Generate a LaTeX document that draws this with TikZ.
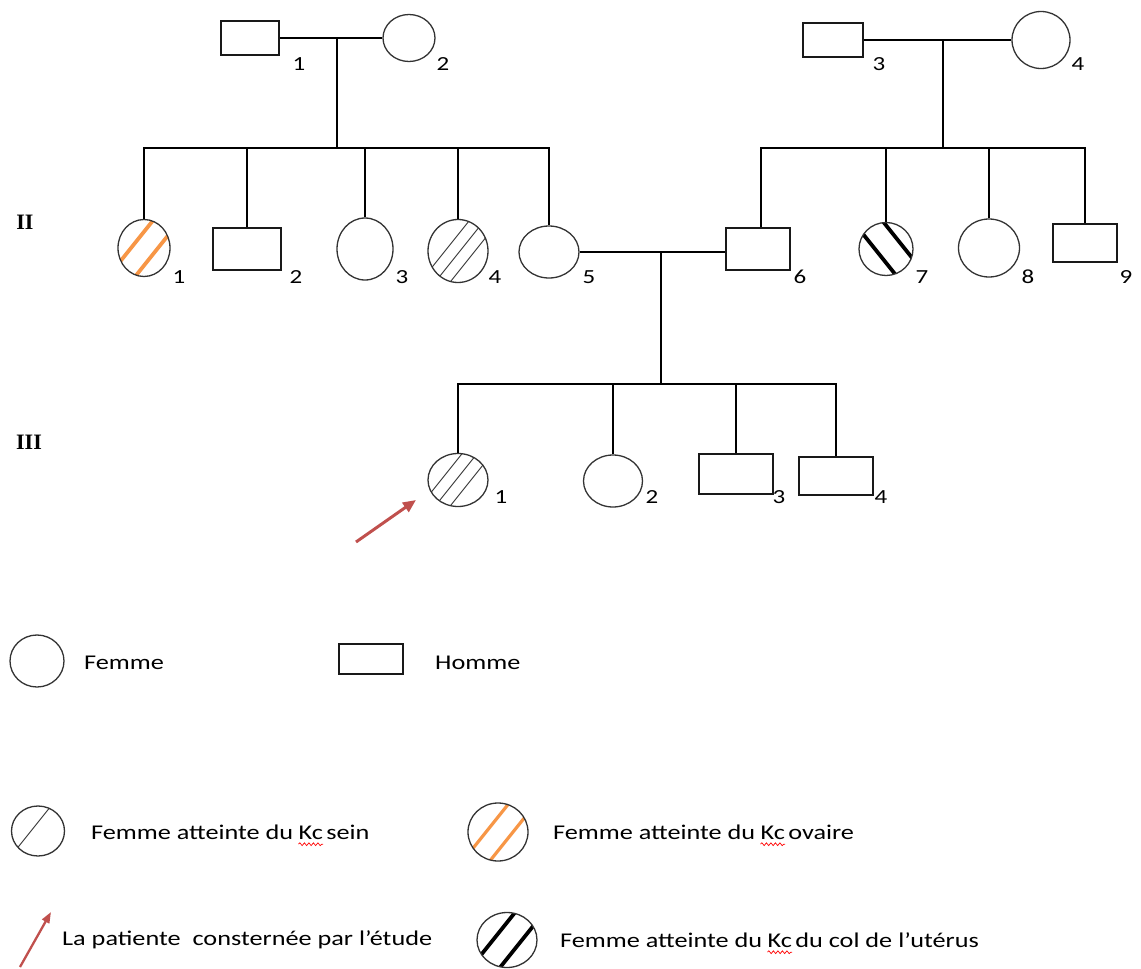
\documentclass[tikz,border=0pt]{standalone}
\usepackage{fontspec}
\setmainfont{Carlito}[FakeStretch=1.25]
\newfontfamily\romfont{Liberation Serif}
\usepackage{xcolor}
\usetikzlibrary{shapes.geometric,arrows.meta,calc,positioning,decorations.pathmorphing}
\definecolor{ovaire}{HTML}{F79646}
\definecolor{fleche}{HTML}{C0504D}

\begin{document}
\begin{tikzpicture}[x=1pt,y=-1pt,
    fem/.style 2 args={ellipse, draw=black!80, line width=1.3pt, inner sep=0pt,
        minimum width=#1, minimum height=#2},
    masc/.style 2 args={rectangle, draw=black!90, line width=1.8pt, inner sep=0pt,
        minimum width=#1, minimum height=#2},
    stripefwd/.style 2 args={path picture={\foreach \d in {#1}
        \draw[#2] ($(path picture bounding box.center)+(\d pt,0)+(-32pt,-40pt)$)
               -- ($(path picture bounding box.center)+(\d pt,0)+(32pt,40pt)$);}},
    stripeback/.style 2 args={path picture={\foreach \d in {#1}
        \draw[#2] ($(path picture bounding box.center)+(\d pt,0)+(-32pt,40pt)$)
               -- ($(path picture bounding box.center)+(\d pt,0)+(32pt,-40pt)$);}},
    lien/.style={line width=1.7pt},
    num/.style={font=\fontsize{20}{24}\selectfont, inner sep=0pt},
    gen/.style={font=\romfont\bfseries\fontsize{22}{26}\selectfont, inner sep=0pt},
    legende/.style={font=\fontsize{21}{25}\selectfont, inner sep=0pt, anchor=west},
    mot/.style={font=\fontsize{21}{25}\selectfont, inner sep=0pt, anchor=base west},
    vague/.style={draw=red, line width=0.7pt, decorate,
        decoration={snake, amplitude=1.4pt, segment length=4.5pt}},
    patiente/.style={draw=fleche, line width=3pt, -{Triangle[length=13pt,width=11pt]}}]

    \useasboundingbox (0,0) rectangle (1141,969);

    %% ── Génération I ─────────────────────────────────────────────────
    \node[masc={58}{34}] (I1) at (250,38) {};
    \node[fem={52}{47}]  (I2) at (409,38) {};
    \node[masc={60}{34}] (I3) at (833,40) {};
    \node[fem={58}{57}]  (I4) at (1041,40) {};
    \node[num] (nI1) at (299,64) {1};
    \node[num] (nI2) at (443,64) {2};
    \node[num] (nI3) at (879,64) {3};
    \node[num] (nI4) at (1078,64) {4};

    \draw[lien] (I1.east) -- (I1.east -| I2.west);
    \draw[lien] (I3.east) -- (I3.east -| I4.west);
    \coordinate (c12) at (337,38);
    \coordinate (c34) at (943,40);

    %% ── Génération II ────────────────────────────────────────────────
    \node[gen] (gII) at (25,222) {II};
    \node[fem={52}{57}, stripefwd={-13,14}{ovaire, line width=3.8pt}] (II1) at (144,248) {};
    \node[masc={68}{42}] (II2) at (247,249) {};
    \node[fem={56}{62}]  (II3) at (365,249) {};
    \node[fem={60}{63}, stripefwd={-13,2,17}{black!75, line width=1pt}] (II4) at (458,251) {};
    \node[fem={60}{52}]  (II5) at (549,252) {};
    \node[masc={64}{42}] (II6) at (758,249) {};
    \node[fem={54}{53}, stripeback={-11,19}{black, line width=3.8pt}] (II7) at (886,249) {};
    \node[fem={61}{58}]  (II8) at (989,248) {};
    \node[masc={64}{38}] (II9) at (1085,243) {};
    \foreach \i/\x in {1/179,2/296,3/402,4/495,5/589,6/800,7/922,8/1028,9/1126}
        \node[num] (nII\i) at (\x,277) {\i};

    \coordinate (s1) at (337,148);
    \coordinate (s2) at (943,148);
    \draw[lien] (c12) -- (s1);
    \draw[lien] (c34) -- (s2);
    \draw[lien] (II1.north) -- (II1.north |- s1) -- (II5.north |- s1) -- (II5.north);
    \foreach \c in {II2,II3,II4}
        \draw[lien] (\c.north) -- (\c.north |- s1);
    \draw[lien] (761,0 |- II6.north) -- (761,148) -- (II9.north |- s2) -- (II9.north);
    \foreach \c in {II7,II8}
        \draw[lien] (\c.north) -- (\c.north |- s2);

    \draw[lien] (II5.east) -- (II5.east -| II6.west);
    \coordinate (c56) at (661,252);
    \coordinate (s3) at (661,384);
    \draw[lien] (c56) -- (s3);

    %% ── Génération III ───────────────────────────────────────────────
    \node[gen] (gIII) at (29,442) {III};
    \node[fem={60}{53}, stripefwd={-17,-2,13}{black!75, line width=1pt}] (III1) at (458,480) {};
    \node[fem={59}{52}]  (III2) at (613,481) {};
    \node[masc={74}{40}] (III3) at (736,474) {};
    \node[masc={74}{38}] (III4) at (836,476) {};
    \foreach \i/\x in {1/501,2/652,3/779,4/881}
        \node[num] (nIII\i) at (\x,497) {\i};

    \draw[lien] (III1.north) -- (III1.north |- s3) -- (III4.north |- s3) -- (III4.north);
    \foreach \c in {III2,III3}
        \draw[lien] (\c.north) -- (\c.north |- s3);

    \coordinate (pt) at (356,542);
    \coordinate (pq) at (416,500);
    \draw[patiente] (pt) -- (pq);

    %% ── Légende ──────────────────────────────────────────────────────
    \node[fem={54}{52}]  (lf) at (37,661) {};
    \node[legende] (tf) at (84,663) {Femme};
    \node[masc={64}{30}] (lh) at (371,659) {};
    \node[legende] (th) at (435,663) {Homme};

    \node[fem={53}{50}, stripefwd={-7}{black!75, line width=1pt}] (ls) at (38,831) {};
    \node[legende] (ts) at (91,832) {Femme atteinte du};
    \node[mot, right=5pt of ts.base east, anchor=base west] (ks) {Kc};
    \node[mot, right=3pt of ks.base east, anchor=base west] (ts2) {sein};
    \node[fem={60}{58}, stripefwd={-12,15}{ovaire, line width=3.2pt}] (lo) at (498,832) {};
    \node[legende] (to) at (553,832) {Femme atteinte du};
    \node[mot, right=5pt of to.base east, anchor=base west] (ko) {Kc};
    \node[mot, right=3pt of ko.base east, anchor=base west] (to2) {ovaire};

    \coordinate (lp) at (20,967);
    \coordinate (lq) at (51,912);
    \draw[draw=fleche, line width=2.3pt, -{Triangle[length=11pt,width=8pt]}] (lp) -- (lq);
    \node[legende] (tp) at (62,940) {La patiente~ consternée par l’étude};
    \node[fem={60}{55}, stripefwd={-14,15}{black, line width=3.8pt}] (lc) at (507,940) {};
    \node[legende] (tc) at (560,940) {Femme atteinte du};
    \node[mot, right=5pt of tc.base east, anchor=base west] (kc) {Kc};
    \node[mot, right=3pt of kc.base east, anchor=base west] (tc2) {du col de l’utérus};

    \foreach \k in {ks,ko,kc}
        \draw[vague] ([yshift=-5pt]\k.base west) -- ([yshift=-5pt]\k.base east);

\end{tikzpicture}
\end{document}
